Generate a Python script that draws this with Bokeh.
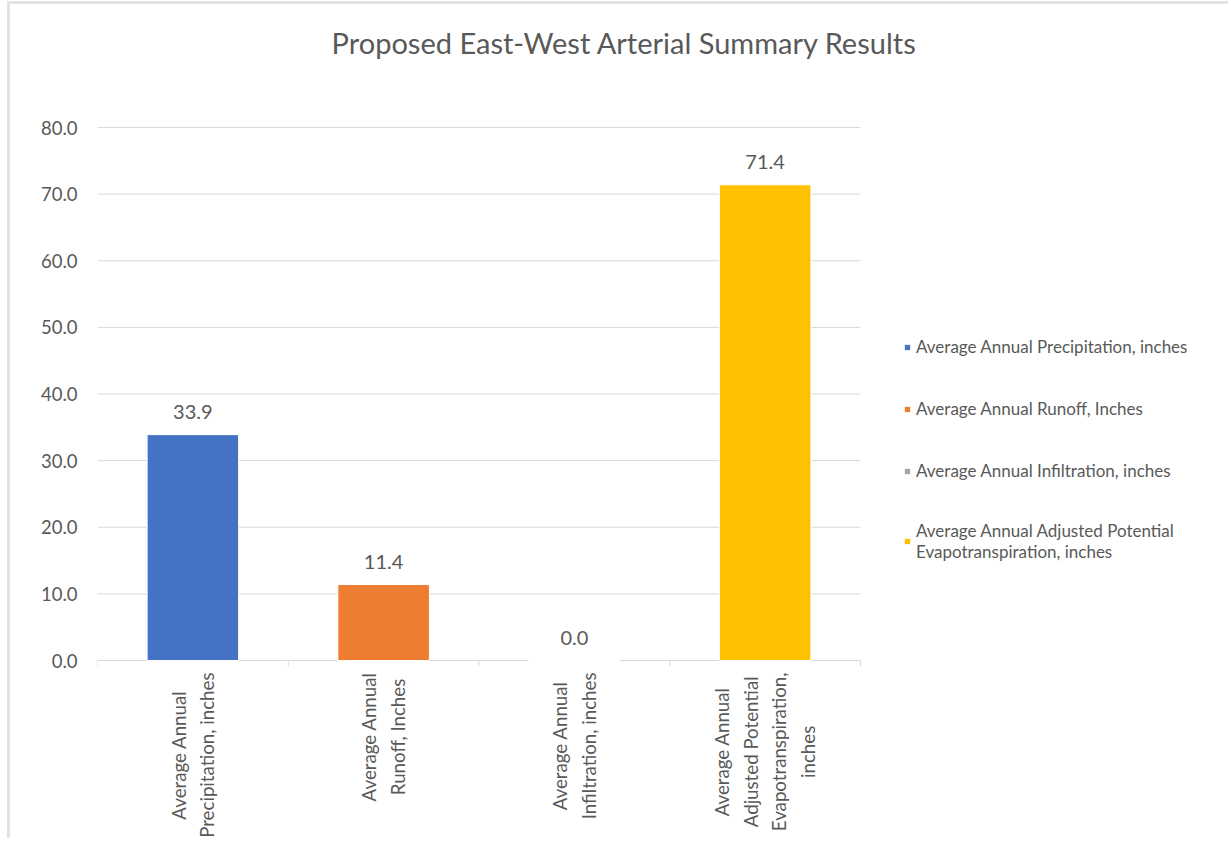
import math
from bokeh.plotting import figure
from bokeh.models import (Range1d, FixedTicker, Legend, LegendItem, ColumnDataSource,
                          NumeralTickFormatter)
from bokeh.core.properties import value
from bokeh.embed import file_html
from bokeh.resources import INLINE

# ---- data ----
chart_title = "Proposed East-West Arterial Summary Results"
categories = ["Precipitation", "Runoff", "Infiltration", "Evapotranspiration"]
axis_labels = [
    "Average Annual\nPrecipitation, inches",
    "Average Annual\nRunoff, Inches",
    "Average Annual\nInfiltration, inches",
    "Average Annual\nAdjusted Potential\nEvapotranspiration,\ninches",
]
legend_labels = [
    "Average Annual Precipitation, inches",
    "Average Annual Runoff, Inches",
    "Average Annual Infiltration, inches",
    "Average Annual Adjusted Potential\nEvapotranspiration, inches",
]
values = [33.9, 11.4, 0.0, 71.4]
colors = ["#4472C4", "#ED7D31", "#A5A5A5", "#FFC000"]
y_ticks = [0, 10, 20, 30, 40, 50, 60, 70, 80]
y_max = 80

FONT = "Lato"
TXT = "#595959"
GRID = "#d9d9d9"

n = len(categories)
centers = [i + 0.5 for i in range(n)]
bounds = list(range(n + 1))

# ---- layout (pixels) ----
CANVAS_W, CANVAS_H = 1221, 837
LEFT = 87                          # room for y tick labels
PLOT_W, PLOT_H = 763, 533          # bar area size
TOP_GAP, BOTTOM_GAP = 123, 181     # space above / below the bar area
px_x = PLOT_W / n
px_y = PLOT_H / y_max
x_end = n + (CANVAS_W - LEFT - PLOT_W) / px_x
y_top = y_max + TOP_GAP / px_y
y_low = -BOTTOM_GAP / px_y
tick_len = 6 / px_y

p = figure(
    width=CANVAS_W, height=CANVAS_H, title=None,
    x_range=Range1d(0, x_end), y_range=Range1d(y_low, y_top),
    x_axis_location=None,
    output_backend="svg", toolbar_location=None,
    min_border_left=LEFT, min_border_right=0, min_border_top=0, min_border_bottom=0,
    margin=(1, 0, 0, 7),
    styles={"border-top": "3px solid #e3e3e3", "border-left": "3px solid #e3e3e3"},
)
p.outline_line_color = None
p.background_fill_color = "white"
p.border_fill_color = "white"
p.xgrid.grid_line_color = None
p.ygrid.grid_line_color = None

# y axis
ya = p.yaxis[0]
ya.ticker = FixedTicker(ticks=y_ticks)
ya.formatter = NumeralTickFormatter(format="0.0")
ya.axis_line_color = None
ya.major_tick_line_color = None
ya.minor_tick_line_color = None
ya.major_label_standoff = 14
ya.major_label_text_font = FONT
ya.major_label_text_font_size = "18.5px"
ya.major_label_text_color = TXT

# gridlines (value axis) and category-boundary tick marks
p.segment(x0=[0] * len(y_ticks), y0=y_ticks, x1=[n] * len(y_ticks), y1=y_ticks,
          line_color=GRID, line_width=1)
p.segment(x0=bounds, y0=[0] * len(bounds), x1=bounds, y1=[-tick_len] * len(bounds),
          line_color=GRID, line_width=1)

src = ColumnDataSource(dict(
    x=centers, cat=categories, val=values, color=colors,
    lab=[f"{v:.1f}" for v in values], axlab=axis_labels, zero=[0] * n,
))
bars = p.vbar(x="x", top="val", width=0.48, fill_color="color",
              line_color="white", line_width=1, source=src)
p.text(x="x", y="val", text="lab", y_offset=-23, text_align="center",
       text_baseline="middle", text_font=value(FONT), text_font_size="20px",
       text_color=TXT, source=src)

# category labels (rotated, lines centered)
p.text(x="x", y="zero", text="axlab", angle=math.pi / 2, anchor="center_right",
       text_align="center", y_offset=12, text_font=value(FONT), text_font_size="18.7px",
       text_line_height=1.3, text_color=TXT, source=src)

# title
p.text(x=[n / 2 + (624 - LEFT - 10 - PLOT_W / 2) / px_x], y=[y_max + (127 - 42) / px_y],
       text=[chart_title], text_align="center", text_baseline="middle",
       text_font=value(FONT), text_font_size="29px", text_color=TXT)

legend = Legend(
    items=[LegendItem(label=lab, renderers=[bars], index=i) for i, lab in enumerate(legend_labels)],
    location=(806, 279),
    glyph_width=8, glyph_height=8, label_standoff=5,
    label_height=25, spacing=37, padding=0, margin=0,
    border_line_color=None, background_fill_alpha=0,
    label_text_font=FONT, label_text_font_size="17px", label_text_color=TXT,
    label_text_line_height=1.45,
)
p.add_layout(legend)

open("out.html", "w").write(file_html(p, INLINE))
